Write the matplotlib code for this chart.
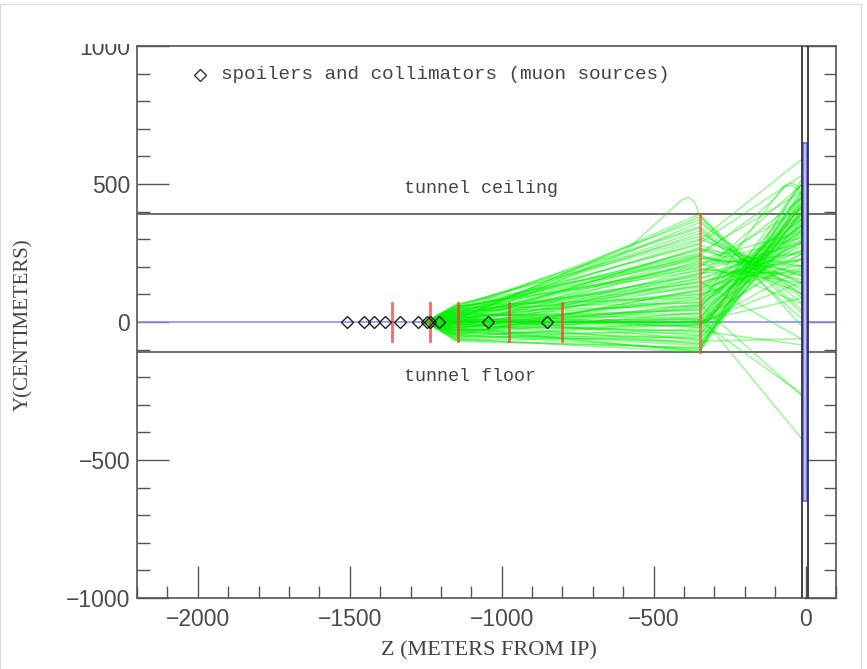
import matplotlib
matplotlib.use("Agg")
import matplotlib.pyplot as plt
from matplotlib.patches import Rectangle
from matplotlib.ticker import MultipleLocator

# ---------------- data ----------------
# muon source positions (spoilers and collimators), Z in metres
source_z = [-1508, -1453, -1420, -1384, -1333, -1277, -1245, -1236, -1206, -1046, -852]
source_y = [0] * len(source_z)

# small collimators (red bars) : z and half height (cm)
coll_z = [-1360, -1236, -1145, -976, -803]
coll_half = [70, 70, 70, 70, 70]
# large magnetised spoiler
big_z = -347
big_lo, big_hi = -110, 390

tunnel_ceiling = 390
tunnel_floor = -110
ip_bar_z = (-8, 5)
ip_bar_y = (-650, 650)
ip_lines_z = [-11, 8]

# muon tracks : y (cm) at the nodes z = -1250, -1150, -350, 0
track_z = [-1250, -1150, -350, 0]
y_m1150 = [5, 40, 55, 30, 60, 20, 45, -10, 35, 50, 15, 65, -20, 25, 40, 10,
           -30, 55, 0, 20, -40, 30, 5, 45, -15, 25, -50, 10, 35, -25, 60, -5,
           15, -35, 40, -10, 20, -45, 5, -20, 30, -55, 0, -30, 15, -60, -15, -40,
           10, -65, -25, -50, -5, -35, -70, -45, -20, -60, 0, 50, 8, -8,
           10, -5, 50, 25, 60, 35, 0, 45, -15, 20, 55, -35, 30, -5, 40, -45,
           15, -20, 50, -40, 5, 25, -30, 0, -50, 35, -10, -55, 20, -25, -65, -30,
           5, -8]
y_m350 = [390, 370, 345, 330, 310, 295, 280, 270, 260, 250, 240, 230, 220, 215, 205, 200,
          190, 185, 178, 170, 160, 155, 148, 140, 132, 125, 118, 110, 102, 95, 88, 80,
          72, 65, 58, 50, 42, 35, 28, 20, 12, 5, -2, -10, -18, -25, -32, -40,
          -48, -55, -62, -70, -78, -85, -92, -100, -108, -110, -5, 225, 8, -12,
          380, 360, 340, 320, 300, 285, 265, 245, 235, 210, 195, 175, 165, 145, 130, 115,
          100, 85, 70, 55, 45, 30, 15, 8, -8, -20, -35, -50, -65, -80, -95, -105,
          -3, 2]
y_0 = [-30, 20, 60, 80, 110, 600, 140, 120, 170, 480, 150, 200, 220, 60, 250, 420,
       170, 290, 180, 510, 230, 300, -70, 260, 350, 210, 380, 280, 320, 250, 400, 300,
       340, -280, 360, 390, 310, 430, -440, 370, 400, -270, 450, 330, 470, 410, -85, 490,
       380, 440, 350, -60, 460, 420, 390, 500, 470, 430, 260, 330, 240, 200,
       30, 90, 0, 130, 160, 540, 200, 100, 180, 310, 140, 260, 460, 230, 290, 330,
       200, 360, 270, 410, 470, 350, 300, 520, 390, 440, 480, 520, 410, 370, 450, 540,
       150, 90]
y_m1250 = [0] * len(y_m1150)

# a few tracks with a bump (hand-read nodes)
bump_z = [-1250, -1150, -600, -450, -410, -385, -365, -350, -200, 0]
bump_y1 = [0, 12, 250, 400, 440, 452, 435, 390, 230, 90]
bump2_z = [-1250, -1150, -350, -150, -100, -70, -45, -25, 0]
bump_y2 = [0, -20, 60, 380, 450, 490, 495, 480, 430]
bump_y3 = [0, 30, 240, 400, 450, 495, 505, 490, 455]

# faint red reference track
red_z = [-1250, -700, -650, -600, -350, -318, 0]
red_y = [0, 0, 10, 0, 0, 5, 434]

# ---------------- figure ----------------
W, H = 867, 669
fig = plt.figure(figsize=(W / 100, H / 100), dpi=100)
ax = fig.add_axes([137 / W, 1 - 598 / H, (836 - 137) / W, (598 - 46) / H])
ax.set_xlim(-2200, 100)
ax.set_ylim(-1000, 1000)

green = (0.0, 0.95, 0.0)
galpha = 0.4
for i in range(len(y_m1150)):
    ys = [y_m1250[i], y_m1150[i], y_m350[i], y_0[i]]
    ax.plot(track_z, ys, color=green, lw=1.1, alpha=galpha, zorder=3)
ax.plot(bump_z, bump_y1, color=green, lw=1.1, alpha=galpha, zorder=3)
ax.plot(bump2_z, bump_y2, color=green, lw=1.1, alpha=galpha, zorder=3)
ax.plot(bump2_z, bump_y3, color=green, lw=1.1, alpha=galpha, zorder=3)

ax.plot(red_z, red_y, color=(1, 0.3, 0.3), lw=1.0, alpha=0.5, zorder=2)

# beam line
ax.axhline(0, color=(0.55, 0.55, 1.0), lw=1.2, zorder=2)
# tunnel
ax.axhline(tunnel_ceiling, color="#555555", lw=1.2, zorder=2)
ax.axhline(tunnel_floor, color="#555555", lw=1.2, zorder=2)

# collimators
for z, h in zip(coll_z, coll_half):
    ax.plot([z, z], [-h, h], color=(1, 0.2, 0.2), lw=2, alpha=0.75, zorder=4)
ax.plot([big_z, big_z], [big_lo, big_hi], color=(1, 0.25, 0.25), lw=2.2, alpha=0.6, zorder=4)

# IP region
for z in ip_lines_z:
    ax.axvline(z, color="#333333", lw=1.3, zorder=5)
ax.add_patch(Rectangle((ip_bar_z[0], ip_bar_y[0]), ip_bar_z[1] - ip_bar_z[0],
                       ip_bar_y[1] - ip_bar_y[0], facecolor=(0.75, 0.75, 1.0),
                       edgecolor=(0.4, 0.4, 1.0), lw=1.2, zorder=4))

# sources
ax.plot(source_z, source_y, linestyle="none", marker="D", ms=6.5,
        mfc="none", mec="#222222", mew=1.0, zorder=6)

# annotations
ax.plot([-1992], [895], linestyle="none", marker="D", ms=6.5, mfc="none",
        mec="#333333", mew=1.0)
ax.text(-1925, 895, "spoilers and collimators (muon sources)", va="center", ha="left",
        family="Liberation Mono", fontsize=13.9, color="#444444")
ax.text(-1321, 482, "tunnel ceiling", va="center", ha="left",
        family="Liberation Mono", fontsize=13.2, color="#444444")
ax.text(-1321, -199, "tunnel floor", va="center", ha="left",
        family="Liberation Mono", fontsize=13.2, color="#444444")

# axes styling
for s in ax.spines.values():
    s.set_color("#555555")
    s.set_linewidth(1.2)
ax.xaxis.set_major_locator(MultipleLocator(500))
ax.xaxis.set_minor_locator(MultipleLocator(100))
ax.yaxis.set_major_locator(MultipleLocator(500))
ax.yaxis.set_minor_locator(MultipleLocator(100))
ax.tick_params(which="both", direction="in", top=False, right=True, colors="#555555",
               labelcolor="#4a4a4a", labelsize=16.5)
ax.tick_params(which="major", length=23, width=1.0)
ax.tick_params(which="minor", length=9, width=1.0)
ax.tick_params(axis="x", pad=7)
ax.tick_params(axis="y", pad=5)
for lab in ax.get_xticklabels() + ax.get_yticklabels():
    lab.set_family("Liberation Sans")

ax.set_xlabel("Z (METERS FROM IP)", family="Liberation Serif", fontsize=16, color="#444444")
ax.set_ylabel("Y(CENTIMETERS)", family="Liberation Serif", fontsize=15, color="#444444")
ax.xaxis.set_label_coords((489 - 137) / 699, (598 - 641) / 552)
ax.yaxis.set_label_coords((33 - 137) / 699, (598 - 325) / 552)

# clipped top strip (as in reference) and light page frame
fig.patches.append(Rectangle((0.06, 1 - 44 / H), 0.095, 38 / H, transform=fig.transFigure,
                             facecolor="white", edgecolor="none", zorder=10))
fig.patches.append(Rectangle((0.0, -0.01), 861 / W, 1 - 4 / H + 0.01, transform=fig.transFigure,
                             facecolor="none", edgecolor="#dddddd", lw=1.0, zorder=11))

fig.savefig("out.png", dpi=100)
